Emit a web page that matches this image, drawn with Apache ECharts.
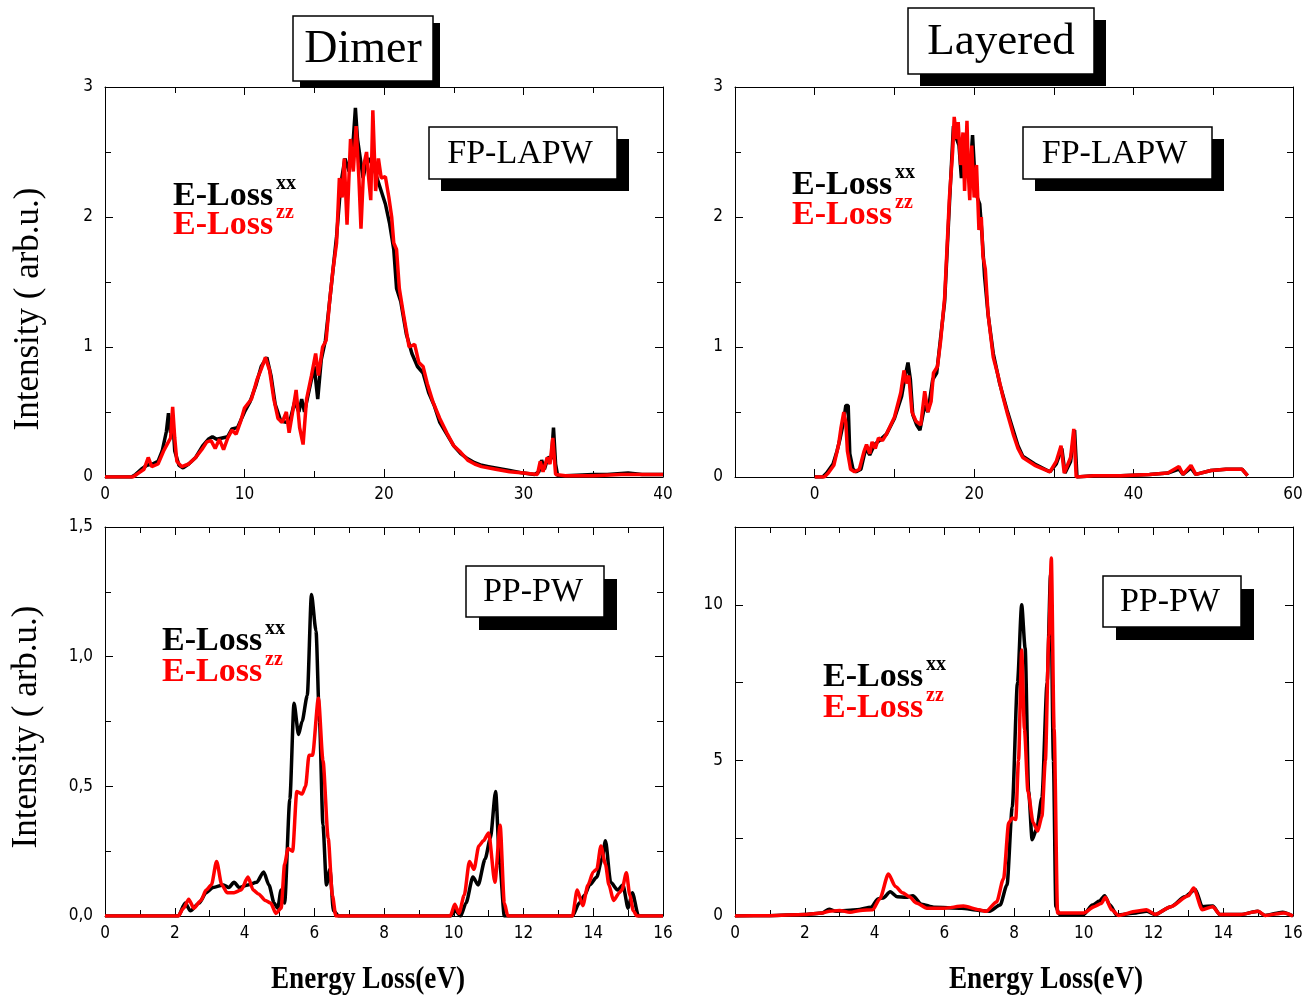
<!DOCTYPE html>
<html>
<head>
<meta charset="utf-8">
<script src="https://cdn.jsdelivr.net/npm/echarts@6/dist/echarts.min.js"></script>
<style>
  html, body { margin: 0; padding: 0; background: #fff; }
  #chart { width: 1313px; height: 998px; }
</style>
</head>
<body>
<div id="chart"></div>
<script>
// Energy-loss spectra, [energy (eV), intensity (arb. u.)]

// Dimer, FP-LAPW
const dimerFpXX = [[0,0],[1.9,0],[2.2,0.02],[2.6,0.06],[3.0,0.09],[3.4,0.1],[3.8,0.12],[4.1,0.2],[4.4,0.35],[4.55,0.49],[4.7,0.34],[4.85,0.45],[5.0,0.2],[5.3,0.09],[5.6,0.07],[6.0,0.1],[6.5,0.15],[7.0,0.24],[7.4,0.29],[7.7,0.31],[8.0,0.29],[8.4,0.3],[8.8,0.31],[9.1,0.37],[9.5,0.38],[10.0,0.5],[10.4,0.58],[10.8,0.7],[11.2,0.85],[11.6,0.92],[11.9,0.78],[12.2,0.56],[12.6,0.43],[13.0,0.42],[13.3,0.45],[13.6,0.58],[13.9,0.5],[14.1,0.6],[14.3,0.5],[14.5,0.6],[14.8,0.75],[15.0,0.85],[15.25,0.6],[15.5,0.9],[15.8,1.05],[16.0,1.25],[16.3,1.55],[16.6,1.85],[16.9,2.25],[17.2,2.45],[17.5,2.35],[17.8,2.6],[17.95,2.84],[18.1,2.6],[18.3,2.45],[18.5,2.3],[18.7,2.4],[18.9,2.45],[19.2,2.4],[19.5,2.3],[19.8,2.2],[20.1,2.1],[20.4,1.95],[20.7,1.75],[20.9,1.45],[21.2,1.35],[21.6,1.1],[22.0,0.95],[22.4,0.85],[22.8,0.8],[23.2,0.65],[23.6,0.55],[24.0,0.42],[24.5,0.33],[25.0,0.24],[25.5,0.18],[26.0,0.14],[26.5,0.11],[27.0,0.09],[27.5,0.08],[28.0,0.07],[29.0,0.05],[30.0,0.03],[30.8,0.02],[31.1,0.04],[31.3,0.13],[31.5,0.06],[31.75,0.15],[32.0,0.14],[32.15,0.38],[32.3,0.1],[32.45,0.01],[33,0.01],[35,0.02],[36,0.02],[37.5,0.03],[38.5,0.02],[40,0.02]];
const dimerFpZZ = [[0,0],[2.0,0],[2.4,0.03],[2.8,0.06],[3.1,0.15],[3.35,0.08],[3.8,0.1],[4.2,0.2],[4.5,0.26],[4.7,0.3],[4.85,0.54],[5.0,0.3],[5.15,0.12],[5.5,0.08],[6.0,0.1],[6.5,0.15],[7.0,0.22],[7.3,0.27],[7.6,0.28],[7.9,0.22],[8.2,0.29],[8.5,0.21],[8.8,0.3],[9.1,0.36],[9.4,0.33],[9.7,0.42],[10.0,0.53],[10.5,0.6],[10.9,0.75],[11.2,0.83],[11.5,0.92],[11.8,0.82],[12.1,0.6],[12.4,0.45],[12.7,0.42],[13.0,0.5],[13.2,0.34],[13.45,0.5],[13.7,0.67],[13.95,0.38],[14.2,0.25],[14.45,0.6],[14.8,0.78],[15.1,0.95],[15.3,0.78],[15.6,1.0],[15.85,1.05],[16.1,1.35],[16.35,1.6],[16.6,1.8],[16.8,2.3],[17.0,2.15],[17.15,2.45],[17.35,1.94],[17.6,2.6],[17.8,2.35],[18.0,2.7],[18.2,2.3],[18.35,1.91],[18.55,2.4],[18.75,2.5],[18.9,2.3],[19.05,2.13],[19.2,2.82],[19.4,2.2],[19.6,2.45],[19.8,2.3],[20.1,2.31],[20.35,2.15],[20.55,2.0],[20.7,1.8],[20.9,1.75],[21.1,1.45],[21.4,1.25],[21.8,1.0],[22.2,1.02],[22.5,0.88],[22.8,0.85],[23.1,0.72],[23.5,0.58],[24.0,0.45],[24.5,0.34],[25.0,0.24],[25.5,0.19],[26.0,0.13],[26.5,0.1],[27.0,0.08],[28.0,0.06],[29.0,0.04],[30.0,0.03],[31.0,0.02],[31.2,0.12],[31.4,0.04],[31.7,0.15],[31.9,0.1],[32.1,0.3],[32.3,0.02],[33,0.01],[35,0.01],[37,0.02],[38,0.02],[40,0.02]];

// Layered, FP-LAPW
const layeredFpXX = [[0,0],[1.0,0],[1.5,0.03],[2.3,0.1],[2.8,0.2],[3.2,0.3],[3.6,0.42],[3.9,0.55],[4.2,0.55],[4.4,0.18],[4.8,0.06],[5.2,0.04],[5.8,0.06],[6.4,0.22],[6.9,0.17],[7.5,0.25],[8.1,0.28],[9.0,0.33],[10.0,0.45],[10.9,0.62],[11.3,0.76],[11.7,0.88],[12.0,0.75],[12.3,0.48],[12.8,0.4],[13.2,0.36],[13.8,0.55],[14.2,0.5],[14.8,0.75],[15.3,0.8],[15.7,1.02],[16.3,1.35],[16.9,2.1],[17.4,2.7],[17.8,2.6],[18.1,2.55],[18.4,2.3],[18.7,2.5],[19.1,2.5],[19.5,2.35],[19.8,2.63],[20.1,2.3],[20.4,2.15],[20.7,2.1],[21.0,1.85],[21.3,1.55],[21.75,1.25],[22.4,0.95],[23.2,0.72],[24.1,0.52],[24.9,0.36],[25.5,0.24],[26.1,0.16],[27.6,0.1],[29.5,0.04],[30.3,0.1],[31.0,0.22],[31.4,0.03],[32.1,0.12],[32.6,0.36],[32.9,0],[35,0.01],[38.4,0.01],[42,0.02],[44.3,0.03],[45.7,0.06],[46.2,0.02],[47.2,0.07],[47.8,0.02],[49.7,0.05],[51.6,0.06],[53.6,0.06],[54.3,0.01]];
const layeredFpZZ = [[0,0],[1.2,0],[1.7,0.03],[2.4,0.09],[3.0,0.25],[3.3,0.38],[3.65,0.5],[3.9,0.42],[4.1,0.2],[4.5,0.06],[5.0,0.04],[5.6,0.06],[6.2,0.2],[6.5,0.25],[6.9,0.18],[7.2,0.27],[7.6,0.22],[8.0,0.3],[8.5,0.28],[9.0,0.33],[10.0,0.46],[10.8,0.65],[11.2,0.82],[11.5,0.72],[11.8,0.78],[12.2,0.5],[12.7,0.43],[13.3,0.4],[13.8,0.66],[14.2,0.5],[14.6,0.58],[14.9,0.8],[15.4,0.85],[15.8,1.05],[16.3,1.38],[16.9,2.15],[17.3,2.5],[17.5,2.77],[17.8,2.6],[18.0,2.73],[18.3,2.4],[18.6,2.65],[18.8,2.2],[19.1,2.74],[19.3,2.3],[19.45,2.13],[19.7,2.55],[20.0,2.15],[20.3,2.4],[20.6,1.9],[20.9,2.0],[21.1,1.7],[21.4,1.6],[21.75,1.25],[22.4,0.92],[23.0,0.78],[23.6,0.62],[24.2,0.48],[24.9,0.33],[25.5,0.22],[26.1,0.15],[27.6,0.09],[29.5,0.04],[30.3,0.12],[30.9,0.24],[31.3,0.03],[32.1,0.15],[32.5,0.37],[32.8,0],[35,0.01],[38.4,0.01],[42,0.02],[44.3,0.03],[45.7,0.08],[46.2,0.02],[47.2,0.09],[47.8,0.02],[49.7,0.05],[51.6,0.06],[53.6,0.06],[54.3,0.01]];

// Dimer, PP-PW
const dimerPpXX = [[0,0],[2.1,0],[2.3,0.05],[2.45,0.02],[2.7,0.05],[2.9,0.09],[3.1,0.11],[3.4,0.12],[3.55,0.11],[3.7,0.13],[3.85,0.11],[4.1,0.12],[4.35,0.13],[4.55,0.17],[4.7,0.12],[4.85,0.05],[4.95,0.03],[5.05,0.1],[5.15,0.05],[5.3,0.45],[5.42,0.82],[5.55,0.7],[5.65,0.75],[5.8,0.85],[5.92,1.24],[6.05,1.1],[6.15,0.75],[6.25,0.35],[6.35,0.12],[6.45,0.18],[6.55,0.02],[6.7,0],[9.9,0],[10.05,0.02],[10.2,0],[10.35,0.05],[10.55,0.15],[10.7,0.12],[10.9,0.22],[11.05,0.3],[11.2,0.48],[11.32,0.2],[11.45,0],[13.4,0],[13.6,0.05],[13.75,0.08],[13.9,0.12],[14.1,0.15],[14.25,0.22],[14.35,0.29],[14.5,0.13],[14.7,0.1],[14.85,0.12],[15.0,0.03],[15.12,0.09],[15.3,0],[16,0]];
const dimerPpZZ = [[0,0],[2.1,0],[2.25,0.03],[2.4,0.065],[2.55,0.03],[2.75,0.06],[2.9,0.1],[3.05,0.12],[3.2,0.21],[3.35,0.12],[3.5,0.09],[3.7,0.09],[3.9,0.1],[4.1,0.15],[4.25,0.1],[4.4,0.085],[4.6,0.06],[4.75,0.05],[4.9,0.01],[5.05,0.03],[5.15,0.2],[5.25,0.26],[5.38,0.25],[5.5,0.48],[5.65,0.47],[5.75,0.5],[5.85,0.62],[5.95,0.62],[6.12,0.84],[6.25,0.6],[6.4,0.3],[6.52,0.08],[6.62,0],[9.9,0],[10.03,0.045],[10.15,0.01],[10.3,0.08],[10.45,0.21],[10.58,0.18],[10.72,0.27],[10.85,0.29],[11.0,0.32],[11.18,0.13],[11.33,0.35],[11.45,0.05],[11.55,0],[13.4,0],[13.54,0.1],[13.7,0.04],[13.85,0.12],[14.0,0.17],[14.1,0.18],[14.22,0.27],[14.35,0.2],[14.45,0.12],[14.58,0.06],[14.75,0.09],[14.82,0.1],[14.95,0.167],[15.05,0.08],[15.15,0.02],[15.25,0],[16,0]];

// Layered, PP-PW
const layeredPpXX = [[0,0],[1,0.01],[2,0.05],[2.5,0.1],[2.7,0.22],[2.9,0.15],[3.5,0.2],[3.9,0.28],[4.1,0.55],[4.25,0.58],[4.45,0.78],[4.65,0.62],[4.9,0.6],[5.1,0.65],[5.35,0.38],[5.7,0.28],[6.5,0.25],[7.0,0.18],[7.3,0.15],[7.6,0.35],[7.8,1.0],[7.95,3.5],[8.1,7.5],[8.22,10.0],[8.32,8.6],[8.42,4.0],[8.52,2.45],[8.65,2.8],[8.8,3.8],[8.95,7.5],[9.05,11.0],[9.13,5.0],[9.2,0.3],[9.3,0.05],[9.8,0.05],[10.0,0.05],[10.25,0.35],[10.45,0.48],[10.6,0.65],[10.75,0.35],[10.95,0.03],[11.5,0.1],[11.8,0.15],[12.05,0.05],[12.5,0.3],[12.9,0.62],[13.2,0.85],[13.4,0.3],[13.7,0.32],[13.9,0.05],[14.5,0.05],[14.98,0.15],[15.2,0.02],[15.7,0.12],[16,0]];
const layeredPpZZ = [[0,0],[1,0.01],[2,0.05],[2.5,0.1],[2.7,0.15],[3.0,0.18],[3.3,0.12],[3.6,0.18],[3.95,0.2],[4.15,0.55],[4.4,1.35],[4.6,0.95],[4.8,0.75],[5.0,0.62],[5.2,0.42],[5.5,0.25],[6.0,0.25],[6.55,0.32],[7.0,0.2],[7.2,0.15],[7.5,0.45],[7.7,1.2],[7.85,3.0],[7.95,3.15],[8.05,3.1],[8.13,5.0],[8.22,8.55],[8.3,6.0],[8.4,4.0],[8.55,3.0],[8.68,2.73],[8.8,3.2],[8.9,5.0],[9.0,9.0],[9.07,11.5],[9.15,6.0],[9.25,0.1],[10.0,0.1],[10.3,0.3],[10.5,0.4],[10.62,0.6],[10.8,0.2],[11.0,0.02],[11.5,0.15],[11.8,0.2],[12.05,0.05],[12.5,0.3],[13.0,0.65],[13.15,0.9],[13.4,0.2],[13.7,0.3],[13.9,0.05],[14.5,0.05],[15.0,0.15],[15.2,0.02],[15.75,0.1],[16,0]];

// Text
const columnTitles = ['Dimer', 'Layered'];
const methodLabels = ['FP-LAPW', 'FP-LAPW', 'PP-PW', 'PP-PW'];
const seriesNames = ['E-Loss', 'E-Loss'];
const seriesSuffix = ['xx', 'zz'];
const yTitle = 'Intensity ( arb.u.)';
const xTitle = 'Energy Loss(eV)';

const tickFont = "'Liberation Sans Narrow', 'Arial Narrow', 'DejaVu Sans Condensed', sans-serif";
const serif = "'Liberation Serif', 'Times New Roman', serif";

const panels = [
  { grid: {left:105, top:87, width:558, height:390},
    x: {min:0, max:40, interval:10, minor:2, fmt: v => String(v)},
    y: {min:0, max:3, interval:1, minor:2, fmt: v => String(v)},
    data: [dimerFpXX, dimerFpZZ], smooth: false },
  { grid: {left:735, top:87, width:558, height:390},
    x: {min:-10, max:60, interval:10, minor:0, fmt: v => (v >= 0 && v % 20 === 0) ? String(v) : ''},
    y: {min:0, max:3, interval:1, minor:2, fmt: v => String(v)},
    data: [layeredFpXX, layeredFpZZ], smooth: false },
  { grid: {left:105, top:527, width:558, height:389},
    x: {min:0, max:16, interval:2, minor:2, fmt: v => String(v)},
    y: {min:0, max:1.5, interval:0.5, minor:2, fmt: v => v.toFixed(1).replace('.', ',')},
    data: [dimerPpXX, dimerPpZZ], smooth: 0.25 },
  { grid: {left:735, top:527, width:558, height:389},
    x: {min:0, max:16, interval:2, minor:2, fmt: v => String(v)},
    y: {min:0, max:12.5, interval:2.5, minor:0, fmt: v => (v % 5 === 0) ? String(v) : ''},
    data: [layeredPpXX, layeredPpZZ], smooth: 0.25 }
];

function axis(spec, gridIndex, position, showLabel, margin) {
  return {
    type: 'value', gridIndex, position,
    min: spec.min, max: spec.max, interval: spec.interval,
    axisLine: { show: true, onZero: false, lineStyle: { color: '#000', width: 1 } },
    axisTick: { show: true, inside: true, length: 8, lineStyle: { color: '#000', width: 1 } },
    minorTick: { show: spec.minor > 0, splitNumber: spec.minor || 5, length: 6, lineStyle: { color: '#000', width: 1 } },
    splitLine: { show: false },
    axisLabel: { show: showLabel, formatter: spec.fmt, color: '#000', fontSize: 17,
                 fontFamily: tickFont, margin: margin, showMinLabel: true, showMaxLabel: true }
  };
}

const grids = [], xAxes = [], yAxes = [], series = [];
const colors = ['#000000', '#ff0000'];
const widths = [3.5, 3.5];
panels.forEach((p, i) => {
  grids.push(Object.assign({ containLabel: false }, p.grid));
  xAxes.push(axis(p.x, i, 'bottom', true, 9));
  xAxes.push(axis(p.x, i, 'top', false, 9));
  yAxes.push(axis(p.y, i, 'left', true, 12));
  yAxes.push(axis(p.y, i, 'right', false, 12));
  p.data.forEach((d, k) => {
    series.push({
      type: 'line', xAxisIndex: 2 * i, yAxisIndex: 2 * i,
      data: d, showSymbol: false, smooth: p.smooth, smoothMonotone: 'x',
      lineStyle: { color: colors[k], width: widths[k] },
      itemStyle: { color: colors[k] },
      z: 2 + k, silent: true, animation: false, clip: true
    });
  });
});

// Boxed labels with a solid offset shadow
function shadowBox(x, y, w, h, off, text, fontSize, dx) {
  return [
    { type: 'rect', shape: { x: x + off, y: y + off, width: w, height: h }, style: { fill: '#000' }, z: 10 },
    { type: 'rect', shape: { x: x, y: y, width: w, height: h }, style: { fill: '#fff', stroke: '#000', lineWidth: 1.5 }, z: 11 },
    { type: 'text', x: x + w / 2 + (dx || 0), y: y + h / 2 + 1, z: 12,
      style: { text: text, font: fontSize + 'px ' + serif, fill: '#000', align: 'center', verticalAlign: 'middle' } }
  ];
}

// Two-line legend: "E-Loss" with bold superscripts
function legend(x, y1, y2) {
  const out = [];
  [y1, y2].forEach((y, k) => {
    out.push({ type: 'text', x: x, y: y, z: 12,
      style: { text: seriesNames[k], font: 'bold 34px ' + serif, fill: colors[k], align: 'left', verticalAlign: 'middle' } });
    out.push({ type: 'text', x: x + 103, y: y - 12, z: 12,
      style: { text: seriesSuffix[k], font: 'bold 20px ' + serif, fill: colors[k], align: 'left', verticalAlign: 'middle' } });
  });
  return out;
}

const graphics = [].concat(
  shadowBox(293, 16, 140, 65, 7, columnTitles[0], 46),
  shadowBox(908, 8, 186, 66, 12, columnTitles[1], 45),
  shadowBox(429, 127, 188, 52, 12, methodLabels[0], 34, -3),
  shadowBox(1023, 127, 189, 52, 12, methodLabels[1], 34, -3),
  shadowBox(466, 566, 138, 51, 13, methodLabels[2], 34, -2),
  shadowBox(1103, 576, 138, 51, 13, methodLabels[3], 34, -2),
  legend(173, 196, 225),
  legend(792, 185, 215),
  legend(162, 641, 672),
  legend(823, 677, 708),
  [
    { type: 'text', x: 29, y: 309, rotation: Math.PI / 2, z: 12,
      style: { text: yTitle, font: '35px ' + serif, fill: '#000', align: 'center', verticalAlign: 'middle' } },
    { type: 'text', x: 27, y: 727, rotation: Math.PI / 2, z: 12,
      style: { text: yTitle, font: '35px ' + serif, fill: '#000', align: 'center', verticalAlign: 'middle' } },
    { type: 'text', x: 368, y: 980, scaleX: 0.85, z: 12,
      style: { text: xTitle, font: 'bold 32px ' + serif, fill: '#000', align: 'center', verticalAlign: 'middle' } },
    { type: 'text', x: 1046, y: 980, scaleX: 0.85, z: 12,
      style: { text: xTitle, font: 'bold 32px ' + serif, fill: '#000', align: 'center', verticalAlign: 'middle' } }
  ]
);

const chart = echarts.init(document.getElementById('chart'), null, { renderer: 'canvas' });
chart.setOption({
  animation: false,
  backgroundColor: '#ffffff',
  grid: grids,
  xAxis: xAxes,
  yAxis: yAxes,
  series: series,
  graphic: graphics
});
</script>
</body>
</html>
